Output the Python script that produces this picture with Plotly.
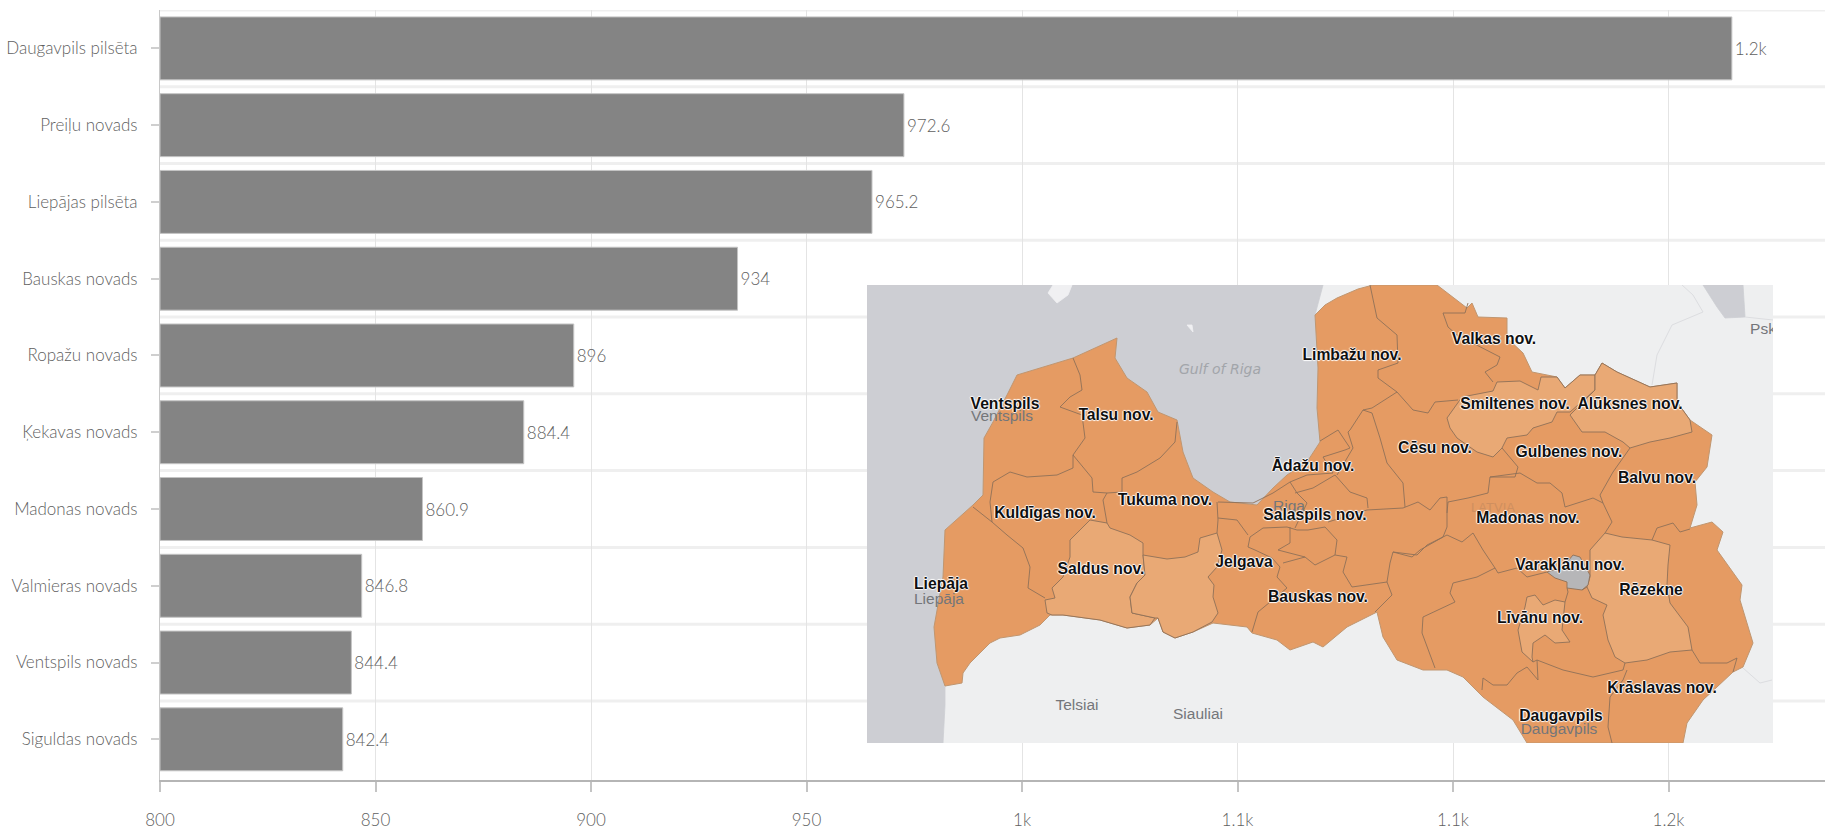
import plotly.graph_objects as go

# ---------- bar chart data ----------
categories = ["Daugavpils pilsēta", "Preiļu novads", "Liepājas pilsēta", "Bauskas novads", "Ropažu novads",
              "Ķekavas novads", "Madonas novads", "Valmieras novads", "Ventspils novads", "Siguldas novads"]
values = [1164.7, 972.6, 965.2, 934, 896, 884.4, 860.9, 846.8, 844.4, 842.4]
value_labels = ["1.2k", "972.6", "965.2", "934", "896", "884.4", "860.9", "846.8", "844.4", "842.4"]
x_ticks = [800, 850, 900, 950, 1000, 1050, 1100, 1150]
x_tick_labels = ["800", "850", "900", "950", "1k", "1.1k", "1.1k", "1.2k"]

# ---------- map inset data (traced in map units) ----------
land_box = [(867, 285), (1773, 285), (1773, 743), (867, 743)]
water = [(867, 285), (1323, 285), (1315, 315), (1318, 368), (1317, 408), (1320, 442), (1307, 462), (1287, 475),
         (1273, 488), (1257, 505), (1230, 502), (1213, 492), (1193, 478), (1183, 452), (1177, 420), (1158, 412),
         (1147, 392), (1127, 378), (1115, 358), (1117, 338), (1073, 358), (1017, 375), (1007, 395), (993, 422),
         (984, 438), (983, 495), (973, 505), (945, 530), (943, 577), (934, 627), (937, 663), (945, 686),
         (945, 705), (943, 743), (867, 743)]
lake = [(1703, 285), (1717, 307), (1725, 318), (1745, 317), (1743, 285)]
islet_a = [(1048, 293), (1057, 303), (1068, 295), (1072, 285), (1053, 285)]
islet_b = [(1187, 325), (1193, 332), (1192, 325)]
faint_border_a = [(1682, 285), (1693, 295), (1703, 312), (1672, 325), (1657, 355), (1652, 385)]
faint_border_b = [(1745, 317), (1773, 320)]
faint_border_c = [(1743, 668), (1760, 683), (1772, 680)]

latvia = [(1315, 315), (1325, 305), (1337, 298), (1358, 289), (1373, 285), (1437, 285), (1467, 308), (1472, 303),
          (1478, 317), (1507, 318), (1507, 338), (1523, 353), (1532, 372), (1557, 377), (1565, 388), (1580, 375),
          (1595, 375), (1602, 363), (1617, 372), (1650, 387), (1677, 383), (1677, 402), (1690, 420), (1702, 428),
          (1712, 435), (1707, 467), (1695, 482), (1697, 505), (1690, 528), (1712, 522), (1723, 532), (1717, 550),
          (1742, 585), (1740, 600), (1753, 643), (1743, 667), (1733, 672), (1717, 687), (1703, 700), (1687, 723),
          (1683, 743), (1527, 743), (1513, 720), (1483, 697), (1463, 677), (1447, 670), (1423, 670), (1397, 660),
          (1383, 637), (1377, 612), (1347, 627), (1323, 647), (1313, 642), (1290, 650), (1277, 640), (1252, 633),
          (1247, 627), (1213, 623), (1193, 632), (1175, 638), (1163, 632), (1158, 618), (1150, 625), (1127, 628),
          (1100, 620), (1063, 615), (1050, 615), (1040, 625), (1020, 635), (1000, 638), (990, 643), (970, 663),
          (963, 673), (962, 683), (945, 686), (937, 663), (934, 627), (943, 577), (945, 530), (973, 505), (983, 495),
          (984, 438), (993, 422), (1007, 395), (1017, 375), (1073, 358), (1117, 338), (1115, 358), (1127, 378),
          (1147, 392), (1158, 412), (1177, 420), (1183, 452), (1193, 478), (1213, 492), (1230, 502), (1257, 505),
          (1273, 488), (1287, 475), (1307, 462), (1320, 442), (1317, 408), (1318, 368)]

saldus = [(1107, 523), (1090, 520), (1070, 540), (1070, 557), (1063, 577), (1052, 588), (1055, 598), (1045, 600),
          (1047, 613), (1052, 615), (1063, 615), (1100, 620), (1127, 628), (1150, 625), (1155, 618), (1132, 613),
          (1130, 597), (1137, 583), (1145, 575), (1143, 555), (1143, 543), (1130, 535), (1110, 528)]
dobele = [(1143, 555), (1167, 559), (1185, 557), (1198, 552), (1200, 538), (1217, 533), (1222, 550), (1217, 567),
          (1208, 577), (1214, 585), (1213, 597), (1218, 613), (1212, 622), (1193, 632), (1175, 638), (1163, 632),
          (1158, 618), (1155, 618), (1132, 613), (1130, 597), (1137, 583), (1145, 575)]
smiltene = [(1447, 418), (1462, 397), (1493, 391), (1497, 382), (1520, 381), (1538, 390), (1541, 377), (1557, 377),
            (1565, 388), (1580, 375), (1595, 375), (1595, 390), (1570, 412), (1557, 412), (1552, 422), (1533, 428),
            (1527, 435), (1507, 438), (1502, 448), (1493, 457), (1477, 452), (1457, 438), (1450, 428)]
aluksne = [(1595, 390), (1595, 375), (1602, 363), (1617, 372), (1650, 387), (1677, 383), (1677, 402), (1690, 420),
           (1692, 432), (1670, 438), (1650, 442), (1630, 448), (1623, 442), (1605, 432), (1582, 432), (1570, 415)]
rezekne = [(1605, 533), (1622, 537), (1652, 540), (1670, 545), (1668, 565), (1667, 585), (1670, 603), (1688, 627),
           (1692, 650), (1670, 652), (1647, 660), (1625, 663), (1615, 657), (1608, 640), (1603, 615), (1607, 605),
           (1592, 598), (1587, 587), (1590, 577), (1590, 550)]
livani = [(1527, 597), (1535, 595), (1543, 605), (1555, 600), (1565, 602), (1562, 630), (1570, 642), (1555, 643),
          (1545, 635), (1533, 643), (1532, 657), (1533, 662), (1522, 652), (1518, 630), (1525, 607)]
varaklani = [(1573, 555), (1580, 557), (1590, 575), (1588, 585), (1582, 590), (1567, 588), (1567, 582), (1555, 578),
             (1547, 572), (1563, 567)]

borders = [
    [(1073, 358), (1080, 375), (1082, 390), (1070, 397), (1060, 407), (1082, 415), (1085, 438), (1073, 455),
     (1092, 478), (1093, 492), (1107, 493), (1103, 500), (1107, 523)],
    [(1073, 455), (1073, 468), (1057, 475), (1027, 477), (1010, 472), (993, 482), (990, 502), (992, 522)],
    [(973, 507), (992, 522), (1007, 535), (1023, 548), (1030, 567), (1028, 588), (1045, 598)],
    [(1177, 422), (1175, 442), (1160, 458), (1137, 472), (1122, 478), (1122, 492), (1107, 493)],
    [(1217, 502), (1218, 520), (1217, 533)],
    [(1252, 632), (1258, 612), (1287, 588), (1277, 577), (1280, 567), (1272, 558), (1255, 550), (1248, 547),
     (1250, 537), (1263, 528), (1287, 527)],
    [(1218, 518), (1237, 520), (1248, 535)],
    [(1287, 527), (1297, 530), (1308, 530), (1325, 527), (1337, 540), (1335, 555), (1347, 557), (1343, 572), (1352, 587)],
    [(1290, 527), (1290, 543), (1278, 550), (1305, 557), (1315, 565), (1328, 558), (1335, 555)],
    [(1305, 557), (1283, 563)],
    [(1352, 587), (1387, 582), (1392, 595), (1380, 607), (1375, 612)],
    [(1328, 522), (1367, 510), (1403, 508), (1418, 502), (1430, 510), (1440, 498), (1447, 497), (1447, 513), (1447, 527),
     (1443, 537), (1420, 550), (1412, 557), (1393, 552), (1390, 563), (1387, 582)],
    [(1218, 502), (1253, 503), (1273, 493), (1290, 482), (1307, 475), (1333, 473)],
    [(1290, 482), (1297, 493), (1307, 503), (1300, 517), (1295, 528)],
    [(1295, 493), (1313, 488), (1335, 475), (1350, 492), (1367, 498), (1368, 508)],
    [(1333, 473), (1323, 457), (1345, 450), (1350, 448)],
    [(1320, 441), (1338, 430), (1350, 448)],
    [(1350, 430), (1363, 410), (1372, 408), (1397, 392)],
    [(1350, 430), (1348, 432), (1353, 448), (1337, 475)],
    [(1370, 285), (1377, 318), (1397, 335), (1398, 363), (1378, 370), (1378, 378), (1397, 392)],
    [(1363, 410), (1372, 413), (1380, 438), (1387, 463), (1403, 483), (1405, 507)],
    [(1397, 392), (1413, 410), (1428, 413), (1435, 402), (1458, 400)],
    [(1468, 303), (1465, 313), (1443, 313), (1448, 327), (1457, 335), (1483, 348), (1500, 357), (1497, 365), (1485, 372), (1493, 382)],
    [(1630, 448), (1613, 472), (1600, 495), (1603, 503)],
    [(1502, 448), (1518, 467), (1515, 477), (1490, 477), (1488, 493), (1468, 498), (1448, 502), (1447, 513)],
    [(1490, 477), (1520, 473), (1537, 483), (1550, 483), (1562, 493), (1565, 507), (1593, 498), (1603, 503), (1612, 522), (1605, 533)],
    [(1652, 540), (1657, 528), (1673, 523), (1680, 532), (1690, 529)],
    [(1692, 650), (1700, 663), (1727, 663), (1737, 658), (1733, 672)],
    [(1447, 535), (1462, 542), (1473, 533), (1483, 550), (1495, 568), (1498, 573), (1517, 568), (1527, 577), (1547, 572)],
    [(1393, 552), (1417, 555), (1427, 545), (1447, 535)],
    [(1495, 568), (1477, 577), (1453, 583), (1450, 593), (1455, 602), (1423, 617), (1422, 633), (1435, 668)],
    [(1567, 588), (1568, 592), (1565, 602)],
    [(1587, 587), (1582, 590)],
    [(1537, 660), (1538, 680), (1527, 667), (1517, 673), (1507, 685), (1493, 685), (1483, 678), (1482, 690)],
    [(1533, 662), (1537, 660), (1563, 670), (1593, 677), (1623, 670), (1625, 663)],
    [(1627, 670), (1623, 680), (1610, 697), (1608, 727), (1612, 743)],
]

label_names = ["Ventspils", "Talsu nov.", "Limbažu nov.", "Valkas nov.", "Smiltenes nov.", "Alūksnes nov.", "Cēsu nov.",
               "Gulbenes nov.", "Balvu nov.", "Ādažu nov.", "Tukuma nov.", "Kuldīgas nov.", "Salaspils nov.",
               "Madonas nov.", "Saldus nov.", "Jelgava", "Liepāja", "Bauskas nov.", "Varakļānu nov.", "Rēzekne",
               "Līvānu nov.", "Krāslavas nov.", "Daugavpils"]
label_x = [1005, 1116, 1352, 1494, 1515, 1630, 1435, 1569, 1657, 1313, 1165, 1045, 1315, 1528, 1101, 1244, 941, 1318,
           1570, 1651, 1540, 1662, 1561]
label_y = [405, 416, 356, 340, 405, 405, 449, 453, 479, 467, 501, 514, 516, 519, 570, 563, 585, 598, 566, 591, 619,
           689, 717]
base_names = ["Ventspils", "Liepāja", "Daugavpils", "Telsiai", "Siauliai", "Psk", "Riga"]
base_x = [1002, 939, 1559, 1077, 1198, 1763, 1289]
base_y = [417, 600, 730, 706, 715, 330, 507]

GREY_TEXT = "#5f5f5f"
FONT = "Lato, sans-serif"
ORANGE = "#e59b63"
LIGHT = "#e9a975"
BORDER = "#8f7058"
SHADOW = "1px 0 1px #fff, -1px 0 1px #fff, 0 1px 1px #fff, 0 -1px 1px #fff"

fig = go.Figure()
fig.add_trace(go.Bar(
    y=categories, x=[v - 800 for v in values], base=800, orientation="h", width=0.82,
    marker=dict(color="#848484", line=dict(color="#c4c4c4", width=1)),
    text=value_labels, textposition="outside", textangle=0, cliponaxis=False,
    textfont=dict(family=FONT, size=17, color=GREY_TEXT, weight=300), hoverinfo="y+x",
))


def area(points, fill, line=None, width=0.8):
    xs = [p[0] for p in points] + [points[0][0]]
    ys = [p[1] for p in points] + [points[0][1]]
    fig.add_trace(go.Scatter(x=xs, y=ys, xaxis="x2", yaxis="y2", mode="lines", fill="toself", fillcolor=fill,
                             line=dict(color=line or fill, width=width), hoverinfo="skip", showlegend=False))


def path(points, color=BORDER, width=0.9):
    fig.add_trace(go.Scatter(x=[p[0] for p in points], y=[p[1] for p in points], xaxis="x2", yaxis="y2", mode="lines",
                             line=dict(color=color, width=width), hoverinfo="skip", showlegend=False))


area(land_box, "#eeeff0")
area(water, "#cdced3")
area(lake, "#cdced3")
area(islet_a, "#f0f0f2")
area(islet_b, "#f0f0f2")
for faint in (faint_border_a, faint_border_b, faint_border_c):
    path(faint, "#dcdde0", 1)
area(latvia, ORANGE, "#c09670", 1)
for region in (saldus, dobele, smiltene, aluksne, rezekne, livani):
    area(region, LIGHT, BORDER, 0.9)
area(varaklani, "#b6b6b8", BORDER, 0.9)
for border in borders:
    path(border)

fig.add_trace(go.Scatter(x=base_x, y=base_y, xaxis="x2", yaxis="y2", mode="text", text=base_names,
                         textfont=dict(family="Liberation Sans, Arial, sans-serif", size=15.5, color="#74767a"),
                         hoverinfo="skip", showlegend=False))
fig.add_trace(go.Scatter(x=[1220], y=[370], xaxis="x2", yaxis="y2", mode="text", text=["Gulf of Riga"],
                         textfont=dict(family="DejaVu Sans, sans-serif", size=14, color="#a2a5aa", style="italic"),
                         hoverinfo="skip", showlegend=False))
fig.add_trace(go.Scatter(x=[1493], y=[509], xaxis="x2", yaxis="y2", mode="text", text=["LATVIA"],
                         textfont=dict(family="Liberation Sans, sans-serif", size=13, color="#cf8f5f"),
                         hoverinfo="skip", showlegend=False))
fig.add_trace(go.Scatter(x=label_x, y=label_y, xaxis="x2", yaxis="y2", mode="text", text=label_names,
                         textfont=dict(family="Liberation Sans, Arial, sans-serif", size=15.7, color="#101010",
                                       weight="bold", shadow=SHADOW),
                         hoverinfo="skip", showlegend=False))

PLOT_L, PLOT_T, PLOT_B = 160, 10, 780
W, H = 1825, 832
plot_w = W - PLOT_L
plot_h = PLOT_B - PLOT_T

grid_shapes = [dict(type="line", xref="paper", x0=0, x1=1, yref="y", y0=i + 0.5, y1=i + 0.5,
                    line=dict(color="#efefef", width=3), layer="below") for i in range(-1, len(categories) - 1)]

fig.update_layout(
    width=W, height=H, paper_bgcolor="white", plot_bgcolor="white", showlegend=False,
    margin=dict(l=PLOT_L, r=0, t=PLOT_T, b=H - PLOT_B, pad=0, autoexpand=False), bargap=0.18, shapes=grid_shapes,
    xaxis=dict(range=[800, 800 + plot_w / 4.31], tickmode="array", tickvals=x_ticks, ticktext=x_tick_labels,
               showgrid=True, gridcolor="#e4e4e4", gridwidth=1, zeroline=False, showline=True, automargin=False,
               linecolor="#b5b5b5", linewidth=2, ticks="outside", ticklen=10, tickcolor="#c4c4c4", tickwidth=1.5,
               ticklabelstandoff=14, tickfont=dict(family=FONT, size=17, color=GREY_TEXT, weight=300)),
    yaxis=dict(autorange=False, range=[9.53, -0.5], type="category", categoryorder="array", categoryarray=categories,
               showgrid=False, zeroline=False, showline=True, linecolor="#c8c8c8", linewidth=1, ticks="outside",
               ticklen=8, tickcolor="#cfcfcf", tickwidth=2, ticklabelstandoff=10, automargin=False,
               tickfont=dict(family=FONT, size=17, color=GREY_TEXT, weight=300)),
    xaxis2=dict(domain=[(867 - PLOT_L) / plot_w, (1773 - PLOT_L) / plot_w], range=[867, 1773], anchor="y2",
                visible=False),
    yaxis2=dict(domain=[(PLOT_B - 743) / plot_h, (PLOT_B - 285) / plot_h], range=[743, 285], anchor="x2",
                visible=False),
)

fig.write_html("out.html", config={"displayModeBar": False},
               post_script="document.body.style.margin='0';document.documentElement.style.overflow='hidden';")
